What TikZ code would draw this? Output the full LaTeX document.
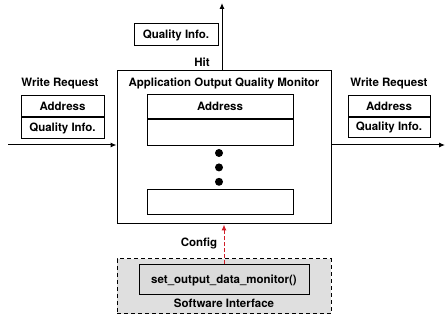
\documentclass[tikz,border=0pt]{standalone}
\usepackage{fontspec}
\setmainfont{TeX Gyre Heros}
\usetikzlibrary{arrows.meta, positioning, calc}

\begin{document}
\begin{tikzpicture}[
        x=1pt, y=-1pt,
        font=\fontsize{11.5}{13}\selectfont\bfseries,
        cell/.style={rectangle, draw, line width=1pt, inner sep=0pt, minimum width=#1, minimum height=21},
        cell/.default=83,
        label/.style={inner sep=0pt},
        dot/.style={circle, fill=black, inner sep=0pt, minimum size=8},
        arrow/.style={line width=1pt, -{Latex[length=6pt, width=5pt]}},
        cfgarrow/.style={arrow, draw=cfgred, dash pattern=on 4pt off 2pt}
    ]
        \definecolor{cfgred}{RGB}{208,30,40}
        \useasboundingbox (0,0) rectangle (445,320);

        % Main monitor
        \node[rectangle, draw, line width=1pt, minimum width=214, minimum height=153] (monitor) at (224,147.5) {};
        \node[label] (title) at (224,83) {Application Output Quality Monitor};
        \node[cell=146, minimum height=24.5] (maddr) at (220,106.5) {Address};
        \node[cell=146, minimum height=25.5, below=0pt of maddr] (mqual) {};
        \node[dot] (d1) at (219,153) {};
        \node[dot, below=6pt of d1] (d2) {};
        \node[dot, below=6pt of d2] (d3) {};
        \node[cell=146, minimum height=25] (mlast) at (220,202.5) {};

        % Hit output
        \coordinate (hit) at (222,3);
        \node[label] (hitlabel) at (202,62) {Hit};
        \node[cell=84, minimum height=22] (hitqual) at (176,35) {Quality Info.};

        % Incoming write request
        \node[label] (inlabel) at (60,83) {Write Request};
        \node[cell] (inaddr) at (62.5,106.5) {Address};
        \node[cell, below=0pt of inaddr] (inqual) {Quality Info.};
        \coordinate (instart) at (8,145);

        % Outgoing write request
        \node[label] (outlabel) at (389,83) {Write Request};
        \node[cell=82, minimum height=20.5] (outaddr) at (389,106) {Address};
        \node[cell=82, minimum height=20.5, below=0pt of outaddr] (outqual) {Quality Info.};
        \coordinate (outend) at (445,145);

        % Software interface
        \node[rectangle, draw, line width=1pt, dash pattern=on 4pt off 3pt, fill=gray!25, minimum width=214, minimum height=55] (swif) at (224,286.5) {};
        \node[cell=170, minimum height=30, fill=gray!28] (setmon) at (224,280) {set\_output\_data\_monitor()};
        \node[label] (swlabel) at (224,303) {Software Interface};
        \node[label] (cfglabel) at (199,243) {Config};

        % Arrows
        \draw[arrow] (monitor.north -| hit) -- (hit);
        \draw[arrow] (instart) -- (monitor.west |- instart);
        \draw[arrow] (monitor.east |- outend) -- (outend);
        \draw[cfgarrow] (setmon.north) -- (monitor.south);
    \end{tikzpicture}
\end{document}
